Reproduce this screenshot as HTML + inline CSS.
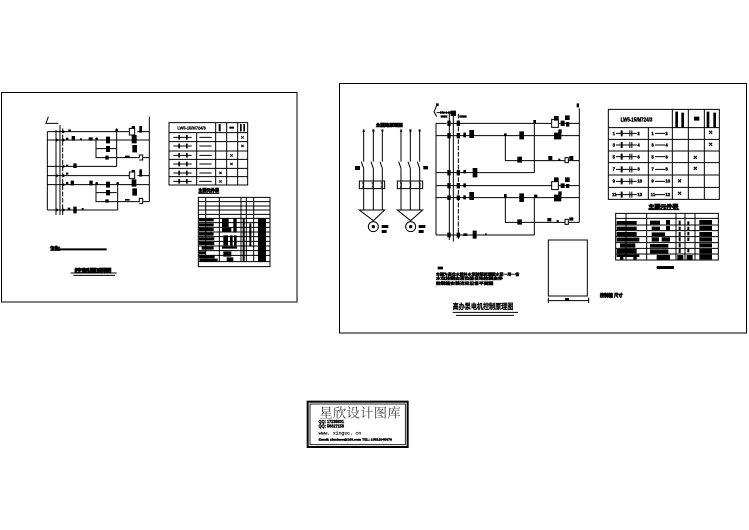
<!DOCTYPE html>
<html><head><meta charset="utf-8">
<style>
html,body{margin:0;padding:0;background:#fff}
svg{display:block}
.l{fill:none;stroke:#000;stroke-width:3}
.d{fill:none;stroke:#000;stroke-width:3;stroke-dasharray:14 5}
text{font-family:"Liberation Sans","Noto Sans CJK SC",sans-serif;fill:#000;stroke:#000;stroke-width:.8;font-weight:bold}
.b{stroke-width:2}
.m{stroke-width:1.2}
</style></head><body>
<svg width="749" height="530" viewBox="0 0 749 530" xmlns="http://www.w3.org/2000/svg">
<rect width="749" height="530" fill="#fff"/>
<rect x="1.5" y="92.5" width="295.5" height="209.5" fill="none" stroke="#000"/>
<rect x="339.5" y="83.5" width="407" height="249.5" fill="none" stroke="#000"/>

<!-- left circuit -->
<g transform="translate(0,90) scale(.33333)">
<path class="l" d="M142 125V360M168 120V375M180 105V375M448 80V335M145 80L138 100H175"/>
<path class="d" d="M188 115V375"/>
<path class="l" d="M142 125H388M412 125H448M388 115h16v20h-16zM142 150H448M288 150V203H370M288 176H350M350 115V229M142 229H350M370 203H418V195h10V210H418M428 203H448"/>
<path class="l" d="M142 257H388M412 257H448M388 246h16v20h-16zM142 284H448M288 284V335H375M288 308H350M353 284V360M142 360H353M375 335H418V325h10v15H418M428 335H448"/>
<path d="M205 118h8v6h-8zM198 143h7v8h-7zM215 138h10v14h-10zM240 145h6v6h-6zM266 142h12v10h-12zM318 140h12v20h-12zM318 168h12v18h-12zM316 197h10v12h-10zM395 135h15v25h-15zM397 165h14v22h-14zM375 197h14v5h-14zM220 220h10v14h-10zM198 224h7v5h-7zM395 108h10v8h-10zM418 108h8v20h-8zM395 240h10v6h-10zM418 238h8v22h-8zM198 248h7v6h-7zM198 276h7v6h-7zM212 272h10v14h-10zM268 272h10v14h-10zM318 275h12v18h-12zM318 300h12v16h-12zM316 328h10v10h-10zM395 268h14v22h-14zM397 295h14v22h-14zM375 327h14v5h-14zM203 353h8v6h-8zM220 350h10v20h-10zM245 354h6v5h-6z"/>
<circle cx="190" cy="125" r="4"/><circle cx="190" cy="150" r="4"/><circle cx="190" cy="229" r="4"/><circle cx="190" cy="257" r="4"/><circle cx="190" cy="284" r="4"/><circle cx="190" cy="360" r="4"/><circle cx="170" cy="150" r="4"/><circle cx="170" cy="257" r="4"/><circle cx="170" cy="360" r="4"/><circle cx="350" cy="120" r="4"/><circle cx="290" cy="146" r="4"/><circle cx="290" cy="280" r="4"/><circle cx="353" cy="280" r="4"/>
<text class="b" x="150" y="480" font-size="14" textLength="30" lengthAdjust="spacingAndGlyphs">注</text>
<path d="M170 475h150v6H170z"/>
<text class="b" x="224" y="548" font-size="15" textLength="110" lengthAdjust="spacingAndGlyphs">控制原理图</text>
<path class="l" d="M212 549H350M220 556H345"/>
</g>

<!-- left tables -->
<g transform="translate(160,110) scale(.33333)">
<path class="l" d="M27 38H263V225H27zM27 68H263M27 95H263M27 123H263M27 148H263M27 175H263M27 200H263M110 68V225M167 38V225M200 38V225M233 38V225"/>
<text x="52" y="58" font-size="15" textLength="85" lengthAdjust="spacingAndGlyphs">LW5-15/M724/3</text>
<path d="M176 42h6v22h-6zM240 42h5v22h-5zM250 42h5v22h-5zM208 50h14v6h-14z"/>
<path class="l" d="M40 82H95M118 82H155M40 108H95M118 108H155M40 136H95M118 136H155M40 162H95M118 162H155M40 189H95M118 189H155M40 214H95M118 214H155"/>
<path d="M55 75h5v14h-5zM78 75h5v14h-5zM55 101h5v14h-5zM78 101h5v14h-5zM55 129h5v14h-5zM78 129h5v14h-5zM55 155h5v14h-5zM78 155h5v14h-5zM55 182h5v14h-5zM78 182h5v14h-5zM55 207h5v14h-5zM78 207h5v14h-5z"/>
<text class="m" x="243" y="87" font-size="15">×</text><text class="m" x="243" y="112" font-size="15">×</text><text class="m" x="210" y="141" font-size="15">×</text><text class="m" x="210" y="167" font-size="15">×</text><text class="m" x="177" y="194" font-size="15">×</text><text class="m" x="177" y="219" font-size="15">×</text>
<text class="b" x="115" y="246" font-size="13" textLength="62" lengthAdjust="spacingAndGlyphs">主要元件表</text>
<path class="l" d="M115 250H178"/>
<path class="l" d="M115 262H330V470H115zM115 275H330M115 288H330M115 300H330M115 313H330M115 325H330M115 338H330M115 352H330M115 366H330M115 380H330M115 394H330M115 408H330M115 422H330M115 436H330M115 455H330M137 262V455M178 262V455M243 262V455M259 262V455M281 262V455"/>
<path d="M117 326h44v8h-44zM117 340h44v9h-44zM117 354h44v9h-44zM117 368h44v9h-44zM117 382h46v9h-46zM117 396h46v9h-46zM125 410h36v9h-36zM117 424h20v9h-20zM117 437h47v8h-47zM118 446h55v8h-55zM186 325h20v26h-20zM220 325h10v26h-10zM186 354h28v12h-28zM220 348h10v20h-10zM190 376h14v30h-14zM210 376h8v30h-8zM222 376h8v30h-8zM186 410h45v6h-45zM190 424h24v16h-24zM200 442h20v12h-20zM248 326h6v128h-6zM268 340h6v70h-6zM294 325h24v130h-24z"/>
</g>

<!-- right motors -->
<g transform="translate(340,90) scale(.33333)">
<text class="b" x="108" y="109" font-size="12" textLength="80" lengthAdjust="spacingAndGlyphs">主回路原理图</text>
<path class="l" d="M71 120V215M71 235V360M64 215L71 235M100 120V215M100 235V360M93 215L100 235M127 120V215M127 235V360M120 215L127 235M183 120V215M183 235V360M176 215L183 235M211 120V215M211 235V360M204 215L211 235M239 120V215M239 235V360M232 215L239 235"/>
<path class="l" d="M58 273H134V296H58zM172 273H248V296H172zM66 279H70V291H66M95 279H99V291H95M122 279H126V291H122M180 279H184V291H180M208 279H212V291H208M236 279H240V291H236"/>
<path class="l" d="M58 360H134L100 392zM172 360H248L212 392z"/>
<circle class="l" cx="100" cy="410" r="15"/><circle class="l" cx="212" cy="410" r="15"/>
<circle cx="100" cy="410" r="5"/><circle cx="212" cy="410" r="5"/>
<path d="M45 228h15v12H45zM250 228h14v10h-14zM125 405h20v9h-20zM125 420h15v9h-15zM236 405h20v9h-20zM236 420h15v9h-15z"/>
<text class="m" x="68" y="124" font-size="9">A</text><text class="m" x="97" y="124" font-size="9">B</text><text class="m" x="124" y="124" font-size="9">C</text><text class="m" x="180" y="124" font-size="9">A</text><text class="m" x="208" y="124" font-size="9">B</text><text class="m" x="236" y="124" font-size="9">C</text>
</g>

<!-- right control circuit -->
<g transform="translate(430,90) scale(.33333)">
<path class="l" d="M18 100V435M58 70V450M70 65V455M448 55V397M22 42L12 65L20 80M20 68H75"/>
<path class="d" d="M85 72V450"/>
<path class="l" d="M18 100H50M62 100H365M365 88h20v24h-20zM385 100H448"/>
<path class="l" d="M18 137H448M226 137V212H405M405 203h10v15h-10zM415 212H448"/>
<path class="l" d="M18 248H313M313 100V248"/>
<path class="l" d="M18 287H365M365 275h20v24h-20zM385 287H448"/>
<path class="l" d="M18 323H448M226 323V397H405M405 388h10v15h-10zM415 397H448"/>
<path class="l" d="M313 323V435M18 435H313"/>
<path d="M52 92h10v16H52zM80 92h10v16H80zM52 129h10v16H52zM80 129h10v16H80zM52 240h10v16H52zM80 240h10v16H80zM52 279h10v16H52zM80 279h10v16H80zM52 316h10v14H52zM80 316h10v14H80zM52 428h10v14H52zM80 428h10v14H80zM62 62h16v16H62zM32 76h20v7H32zM88 76h22v7H88z"/>
<path d="M100 128h8v14h-8zM118 120h14v24h-14zM100 240h8v10h-8zM128 234h14v28h-14zM100 280h8v12h-8zM100 316h8v12h-8zM118 306h14v24h-14zM100 430h12v8h-12zM128 422h12v24h-12zM165 430h5v6h-5zM222 130h8v8h-8zM268 124h14v24h-14zM262 200h14v18h-14zM355 198h12v12h-12zM385 206h6v6h-6zM418 198h12v12h-12zM372 78h14v14h-14zM405 76h14v14h-14zM392 92h12v16h-12zM408 96h10v14h-10zM372 128h22v20h-22zM385 118h10v12h-10zM372 262h14v14h-14zM405 262h14v14h-14zM392 280h12v14h-12zM408 282h10v12h-10zM372 314h22v20h-22zM385 304h10v12h-10zM222 312h8v12h-8zM268 310h14v26h-14zM312 314h10v10h-10zM262 388h14v16h-14zM352 384h12v10h-12zM380 390h6v6h-6zM418 382h12v10h-12zM310 90h8v12h-8zM440 40h7v12h-7zM18 40h8v8h-8z"/>
<text class="m" x="30" y="70" font-size="9">KM-1 KM-2</text>
</g>

<!-- box and notes -->
<g transform="translate(430,235) scale(.33333)">
<path class="l" d="M355 15H472V183H355zM355 197H476M355 188V204M476 188V204"/>
<path d="M405 189h12v7h-12zM23 95h16v8H23z"/>
<text class="m" x="18" y="121" font-size="11" textLength="250" lengthAdjust="spacingAndGlyphs">本图为高位水箱补水泵控制原理图水泵一用一备</text>
<text class="m" x="18" y="133" font-size="11" textLength="200" lengthAdjust="spacingAndGlyphs">水位控制由液位器自动控制启停</text>
<text class="m" x="18" y="149" font-size="11" textLength="172" lengthAdjust="spacingAndGlyphs">控制箱安装详见设备平面图</text>
<text x="68" y="222" font-size="23" textLength="182" lengthAdjust="spacingAndGlyphs" stroke-width="1.5">高办泵电机控制原理图</text>
<path class="l" d="M68 232H264M78 241H252"/>
<text class="b" x="510" y="186" font-size="13" textLength="68" lengthAdjust="spacingAndGlyphs">控制箱 尺寸</text>
</g>

<!-- right tables -->
<g transform="translate(600,100) scale(.33333)">
<path class="l" d="M25 28H358V298H25zM25 83H358M25 118H358M25 153H358M25 188H358M25 225H358M25 262H358M145 83V298M217 28V298M265 28V298M313 28V298"/>
<text class="m" x="62" y="64" font-size="16" textLength="95" lengthAdjust="spacingAndGlyphs">LW5-15/M724/3</text>
<path d="M226 35h8v48h-8zM244 38h8v44h-8zM282 50h16v12h-16zM320 35h8v48h-8zM340 38h8v44h-8z"/>
<g font-size="13"><text class="m" x="38" y="105">1</text><text class="m" x="112" y="105">2</text><text class="m" x="38" y="140">3</text><text class="m" x="112" y="140">4</text><text class="m" x="38" y="175">5</text><text class="m" x="112" y="175">6</text><text class="m" x="38" y="212">7</text><text class="m" x="112" y="212">8</text><text class="m" x="38" y="248">9</text><text class="m" x="112" y="248">10</text><text class="m" x="36" y="288">11</text><text class="m" x="112" y="288">12</text>
<text class="m" x="154" y="105">1</text><text class="m" x="196" y="105">2</text><text class="m" x="154" y="140">3</text><text class="m" x="196" y="140">4</text><text class="m" x="154" y="175">5</text><text class="m" x="196" y="175">6</text><text class="m" x="154" y="212">7</text><text class="m" x="196" y="212">8</text><text class="m" x="154" y="248">9</text><text class="m" x="196" y="248">10</text><text class="m" x="152" y="288">11</text><text class="m" x="196" y="288">12</text></g>
<path class="l" d="M48 100H110M48 135H110M48 170H110M48 208H110M48 244H110M48 284H110M165 100H195M165 135H195M165 170H195M165 208H195M165 244H195M165 284H195"/>
<path d="M62 91h6v18h-6zM88 91h3v18h-3zM94 91h3v18h-3zM62 126h6v18h-6zM88 126h3v18h-3zM94 126h3v18h-3zM62 161h6v18h-6zM88 161h3v18h-3zM94 161h3v18h-3zM62 199h6v18h-6zM88 199h3v18h-3zM94 199h3v18h-3zM62 235h6v18h-6zM88 235h3v18h-3zM94 235h3v18h-3zM62 275h6v18h-6zM88 275h3v18h-3zM94 275h3v18h-3z"/>
<text class="m" x="326" y="103" font-size="20">×</text><text class="m" x="326" y="140" font-size="20">×</text><text class="m" x="280" y="178" font-size="20">×</text><text class="m" x="280" y="212" font-size="20">×</text><text class="m" x="233" y="249" font-size="20">×</text><text class="m" x="233" y="286" font-size="20">×</text>
<text class="b" x="145" y="325" font-size="15" textLength="90" lengthAdjust="spacingAndGlyphs">主要元件表</text>
<path class="l" d="M145 329H238"/>
<path class="l" d="M47 340H355V480H47zM47 355H355M47 375H355M47 392H355M47 410H355M47 428H355M47 445H355M47 462H355M78 340V480M140 340V480M228 340V480M255 340V480M285 340V480"/>
<path d="M50 363h60v10H50zM50 380h60v10H50zM50 396h60v12H50zM50 413h68v12H50zM60 430h20v13H60zM80 430h26v13H80zM50 447h60v13H50zM50 464h68v7H50zM60 470h10v9H60zM100 470h10v9h-10zM150 362h30v11h-30zM198 360h12v13h-12zM155 380h25v10h-25zM198 378h12v12h-12zM155 397h40v11h-40zM155 412h22v13h-22zM185 412h25v13h-25zM150 432h55v11h-55zM150 448h55v12h-55zM170 465h40v14h-40zM236 362h6v12h-6zM236 380h6v10h-6zM236 396h6v12h-6zM236 412h6v12h-6zM236 430h6v12h-6zM236 447h6v12h-6zM262 364h6v10h-6zM262 380h6v10h-6zM262 396h6v10h-6zM262 413h6v10h-6zM262 447h6v10h-6zM232 465h18v14h-18zM260 465h18v14h-18zM298 360h38v13h-38zM298 378h38v12h-38zM298 396h38v12h-38zM298 412h38v13h-38zM298 430h38v12h-38zM298 447h38v13h-38zM298 464h38v14h-38zM170 498h52v9h-52z"/>
</g>

<!-- watermark -->
<g transform="translate(300,395) scale(.33333)">
<rect x="23" y="20" width="300" height="136" fill="#fff" stroke="#000" stroke-width="6"/>
<rect x="30" y="27" width="286" height="122" fill="none" stroke="#000" stroke-width="2.5"/>
<text x="58" y="68" font-size="40" textLength="244" style="font-family:'Noto Serif CJK SC',serif;font-weight:normal;fill:#444;stroke:none">星欣设计图库</text>
<text class="m" x="56" y="84" font-size="13" textLength="76" lengthAdjust="spacingAndGlyphs">QQ: 17238831</text>
<text class="m" x="56" y="98" font-size="13" textLength="76" lengthAdjust="spacingAndGlyphs">QQ: 58627158</text>
<text x="56" y="118" font-size="15" textLength="128" style="font-family:'Liberation Mono',monospace;font-weight:normal;stroke-width:.5">www. xingsc. cn</text>
<text class="m" x="56" y="136" font-size="9" textLength="220" lengthAdjust="spacingAndGlyphs">Email: xinxinsc@163.com  TEL: 13512345678</text>
</g>
</svg>
</body></html>
